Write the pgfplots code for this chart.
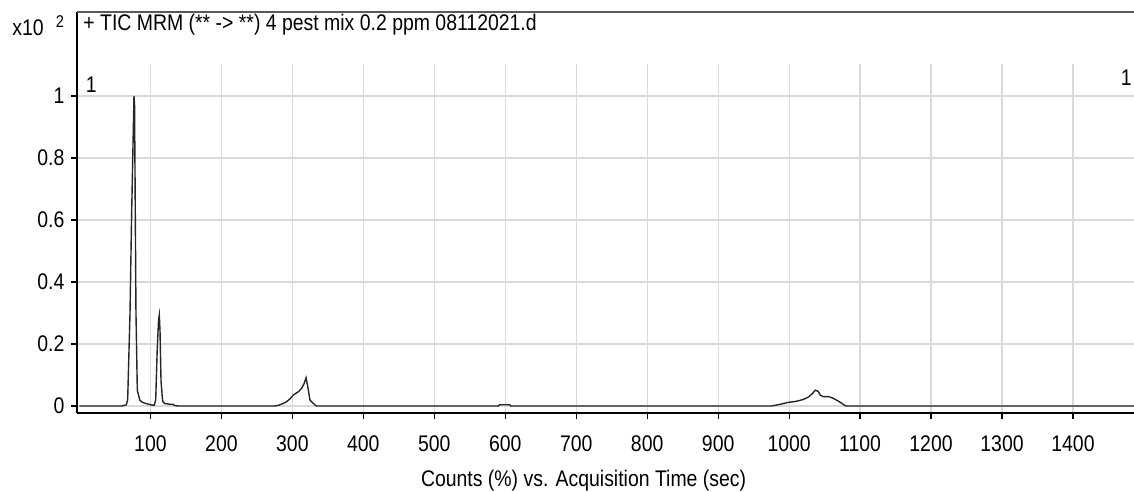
\documentclass[border=0pt]{standalone}
\usepackage{fontspec}
\setmainfont{Liberation Sans}[FakeStretch=0.86]
\usepackage{pgfplots}
\pgfplotsset{compat=1.18}
\pgfplotstableread{
x y
0 0
60 0
66 0.004
67.9 0.02
71.2 0.3
73.5 0.62
76.8 1.0
77.6 0.97
79.6 0.3
81.5 0.05
85 0.019
88 0.013
92 0.009
97 0.006
102 0.003
105.5 0.003
107.4 0.02
109.5 0.18
111.5 0.28
112.5 0.294
113.5 0.24
114.9 0.08
117.2 0.015
120 0.008
126 0.006
132 0.005
134.6 0.001
140 0
275 0
280 0.002
286 0.007
292 0.014
297 0.024
301.3 0.035
305 0.041
308.4 0.046
313 0.057
316.5 0.072
319.2 0.091
321.5 0.065
324.8 0.019
329.5 0.008
334 0
590 0
592 0.004
606 0.004
608 0
975 0
986.6 0.005
994 0.009
999.6 0.012
1010 0.015
1020 0.021
1028 0.03
1033 0.041
1037 0.051
1041 0.047
1044 0.035
1048 0.03
1056 0.03
1061 0.026
1066 0.02
1072 0.012
1077 0.004
1080 0
1486 0
}\tic
\begin{document}
\begin{tikzpicture}[font=\fontsize{11.3}{13.5}\selectfont]
\begin{axis}[
  scale only axis, width=528.25pt, height=174.5pt,
  xmin=-2.8, xmax=1486, ymin=-0.0226, ymax=1.103,
  axis lines*=left,
  axis line style={line width=1pt, black},
  xtick={100,200,...,1400},
  ytick={0,0.2,0.4,0.6,0.8,1},
  yticklabels={0,0.2,0.4,0.6,0.8,1},
  tick align=outside, major tick length=3pt,
  tick style={black, line width=0.6pt},
  grid=major, major grid style={black!15, line width=0.6pt},
  /pgf/number format/assume math mode=true,
  /pgf/number format/1000 sep={},
  x tick label style={yshift=-5pt},
  xlabel={Counts (\%) vs. Acquisition Time (sec)},
  xlabel style={at={(axis description cs:0.479,0)}, anchor=center, yshift=-34pt},
  clip=false,
]
\addplot[black!85, line width=0.7pt] table {\tic};
\coordinate (ll) at (rel axis cs:0,0);
\coordinate (ul) at (rel axis cs:0,1);
\coordinate (ur) at (rel axis cs:1,1);
\end{axis}
\draw[line width=1pt, black] (ul) -- ([yshift=26pt]ul);
\draw[line width=1pt, black!65] ([yshift=26pt]ul) -- ([yshift=26pt,xshift=2pt]ur);
\node[anchor=west, inner sep=0] at ([xshift=2.75pt, yshift=19.5pt]ul) {+ TIC MRM (** -> **) 4 pest mix 0.2 ppm 08112021.d};
\node[anchor=west, inner sep=0] at ([xshift=-32.75pt, yshift=18pt]ul) {x10};
\node[inner sep=0, font=\fontsize{8.5}{9}\selectfont] at ([xshift=-8.75pt, yshift=21pt]ul) {2};
\node[anchor=west, inner sep=0] at ([xshift=4pt, yshift=-10.5pt]ul) {1};
\node[anchor=east, inner sep=0] at ([xshift=-1pt, yshift=-7pt]ur) {1};
\pgfresetboundingbox
\path[use as bounding box] ([xshift=-38.75pt,yshift=-39.5pt]ll) rectangle ([yshift=32pt]ur);
\end{tikzpicture}
\end{document}
